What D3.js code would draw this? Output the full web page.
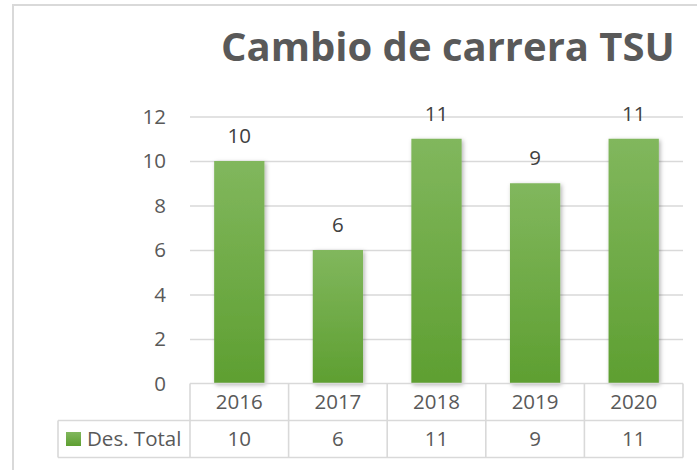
<!DOCTYPE html>
<html>
<head>
<meta charset="utf-8">
<script src="https://cdn.jsdelivr.net/npm/d3@7"></script>
<style>
  body { margin: 0; background: #fff; }
  text { font-family: "Open Sans", "Liberation Sans", sans-serif; }
</style>
</head>
<body>
<div class="view"></div>
<script>
var years = ["2016", "2017", "2018", "2019", "2020"];
var values = [10, 6, 11, 9, 11];
var seriesName = "Des. Total";
var yTicks = [0, 2, 4, 6, 8, 10, 12];
var title = "Cambio de carrera TSU";

var width = 697;
var height = 470;

var plot = { left: 190, right: 683, top: 116.5, bottom: 383.5 };
var rowH = 37;
var legendLeft = 58;
var grey = "#d9d9d9";
var textColor = "#595959";
var fontSize = 20.5;

var svg = d3.select(".view")
    .append("svg")
    .attr("width", width)
    .attr("height", height);

var defs = svg.append("defs");

var grad = defs.append("linearGradient")
    .attr("id", "barGrad")
    .attr("x1", 0).attr("y1", 0)
    .attr("x2", 0).attr("y2", 1);
grad.append("stop").attr("offset", "0%").attr("stop-color", "#81b75d");
grad.append("stop").attr("offset", "100%").attr("stop-color", "#5e9f31");

var shadow = defs.append("filter")
    .attr("id", "shadow")
    .attr("x", "-30%").attr("y", "-10%")
    .attr("width", "160%").attr("height", "120%");
shadow.append("feDropShadow")
    .attr("dx", 1.5).attr("dy", 1.5)
    .attr("stdDeviation", 2.2)
    .attr("flood-color", "#000")
    .attr("flood-opacity", 0.3);

// chart border
svg.append("rect")
    .attr("x", 13).attr("y", 5)
    .attr("width", 700).attr("height", 480)
    .attr("fill", "#fff")
    .attr("stroke", grey)
    .attr("stroke-width", 2);

// title
svg.append("text")
    .attr("x", 221)
    .attr("y", 61)
    .attr("fill", textColor)
    .attr("font-size", 40)
    .attr("font-weight", "bold")
    .text(title);

var x = d3.scaleBand()
    .domain(years)
    .range([plot.left, plot.right])
    .paddingInner(0.49)
    .paddingOuter(0.245);

var y = d3.scaleLinear()
    .domain([0, 12])
    .range([plot.bottom, plot.top]);

// gridlines
var grid = svg.append("g")
    .attr("transform", "translate(" + plot.left + ",0)")
    .call(d3.axisLeft(y)
        .tickValues(yTicks.filter(function (d) { return d > 0; }))
        .tickSize(-(plot.right - plot.left))
        .tickFormat(""));
grid.select(".domain").remove();
grid.selectAll("line").attr("stroke", grey).attr("stroke-width", 1.3);

// y axis labels
var yAxis = svg.append("g")
    .attr("transform", "translate(166,0)")
    .call(d3.axisLeft(y).tickValues(yTicks).tickSize(0).tickPadding(0));
yAxis.select(".domain").remove();
yAxis.selectAll("text")
    .attr("fill", textColor)
    .attr("font-size", fontSize)
    .style("font-family", "'Open Sans', sans-serif");

// bars
svg.append("g")
    .selectAll("rect")
    .data(values)
    .enter().append("rect")
    .attr("x", function (d, i) { return x(years[i]); })
    .attr("y", function (d) { return y(d); })
    .attr("width", x.bandwidth())
    .attr("height", function (d) { return y(0) - y(d); })
    .attr("fill", "url(#barGrad)")
    .attr("filter", "url(#shadow)");

// data labels
svg.append("g")
    .selectAll("text")
    .data(values)
    .enter().append("text")
    .attr("x", function (d, i) { return x(years[i]) + x.bandwidth() / 2; })
    .attr("y", function (d) { return y(d) - 25; })
    .attr("dy", "0.35em")
    .attr("text-anchor", "middle")
    .attr("fill", "#404040")
    .attr("font-size", fontSize)
    .text(function (d) { return d; });

// data table
var step = x.step();
var table = svg.append("g")
    .attr("stroke", grey)
    .attr("stroke-width", 1.6)
    .attr("fill", "none");

table.append("line")
    .attr("x1", plot.left).attr("x2", plot.right)
    .attr("y1", plot.bottom).attr("y2", plot.bottom);
table.append("line")
    .attr("x1", legendLeft).attr("x2", plot.right)
    .attr("y1", plot.bottom + rowH).attr("y2", plot.bottom + rowH);
table.append("line")
    .attr("x1", legendLeft).attr("x2", plot.right)
    .attr("y1", plot.bottom + 2 * rowH).attr("y2", plot.bottom + 2 * rowH);
table.append("line")
    .attr("x1", legendLeft).attr("x2", legendLeft)
    .attr("y1", plot.bottom + rowH).attr("y2", plot.bottom + 2 * rowH);

table.selectAll(".col")
    .data(d3.range(years.length + 1))
    .enter().append("line")
    .attr("x1", function (i) { return plot.left + i * step; })
    .attr("x2", function (i) { return plot.left + i * step; })
    .attr("y1", plot.bottom)
    .attr("y2", plot.bottom + 2 * rowH);

svg.append("g")
    .selectAll("text")
    .data(years)
    .enter().append("text")
    .attr("x", function (d) { return x(d) + x.bandwidth() / 2; })
    .attr("y", plot.bottom + rowH / 2)
    .attr("dy", "0.35em")
    .attr("text-anchor", "middle")
    .attr("fill", textColor)
    .attr("font-size", fontSize)
    .text(function (d) { return d; });

svg.append("g")
    .selectAll("text")
    .data(values)
    .enter().append("text")
    .attr("x", function (d, i) { return x(years[i]) + x.bandwidth() / 2; })
    .attr("y", plot.bottom + rowH * 1.5)
    .attr("dy", "0.35em")
    .attr("text-anchor", "middle")
    .attr("fill", textColor)
    .attr("font-size", fontSize)
    .text(function (d) { return d; });

// legend key in table
svg.append("rect")
    .attr("x", 66).attr("y", 432)
    .attr("width", 15).attr("height", 14)
    .attr("fill", "url(#barGrad)");

svg.append("text")
    .attr("x", 87)
    .attr("y", plot.bottom + rowH * 1.5)
    .attr("dy", "0.35em")
    .attr("fill", textColor)
    .attr("font-size", fontSize)
    .text(seriesName);
</script>
</body>
</html>
